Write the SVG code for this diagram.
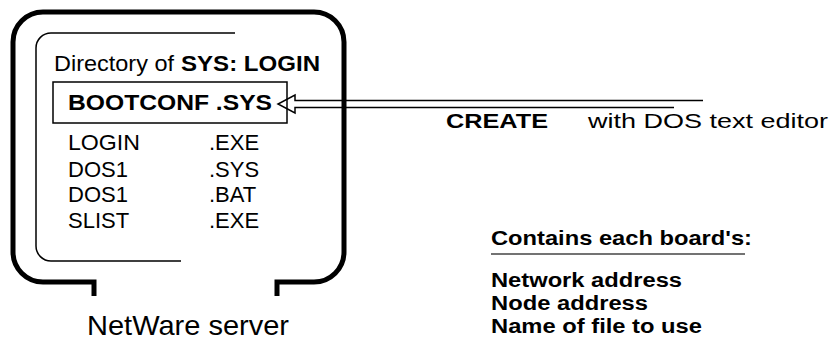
<svg xmlns="http://www.w3.org/2000/svg" width="829" height="341" viewBox="0 0 829 341">
<style>
.t{font-family:"Liberation Sans",Arial,Helvetica,sans-serif;fill:#000}
.b{font-weight:bold}
.frame{fill:none;stroke:#000;stroke-width:5}
.thin{fill:none;stroke:#000;stroke-width:1.5}
</style>
<rect width="829" height="341" fill="#fff"/>
<g id="server">
<path class="frame" d="M94 296V282H43A30 30 0 0 1 13 252V42A30 30 0 0 1 43 12H314A30 30 0 0 1 344 42V252A30 30 0 0 1 314 282H277V296"/>
<text class="t" x="188" y="335" font-size="28" text-anchor="middle" textLength="202" lengthAdjust="spacingAndGlyphs">NetWare server</text>
</g>
<g id="directory">
<path class="thin" d="M235 33H51A15 15 0 0 0 36 48V246A15 15 0 0 0 51 261H181"/>
<text class="t" x="54" y="71" font-size="22" textLength="120" lengthAdjust="spacingAndGlyphs">Directory of</text>
<text class="t b" x="181" y="71" font-size="22" textLength="139" lengthAdjust="spacingAndGlyphs">SYS: LOGIN</text>
<g font-size="22">
<text class="t" x="68" y="150" textLength="72" lengthAdjust="spacingAndGlyphs">LOGIN</text><text class="t" x="209" y="150">.EXE</text>
<text class="t" x="68" y="176.5">DOS1</text><text class="t" x="209" y="176.5">.SYS</text>
<text class="t" x="68" y="202">DOS1</text><text class="t" x="209" y="202">.BAT</text>
<text class="t" x="68" y="228">SLIST</text><text class="t" x="209" y="228">.EXE</text>
</g>
</g>
<g id="bootconf">
<rect class="thin" x="53" y="82" width="234" height="41" fill="#fff"/>
<text class="t b" x="68" y="110" font-size="22" textLength="204" lengthAdjust="spacingAndGlyphs">BOOTCONF .SYS</text>
</g>
<g id="create">
<text class="t b" x="446" y="128" font-size="20" textLength="102" lengthAdjust="spacingAndGlyphs">CREATE</text>
<text class="t" x="588" y="128" font-size="20" textLength="240" lengthAdjust="spacingAndGlyphs">with DOS text editor</text>
</g>
<g id="contents">
<text class="t b" x="491" y="245" font-size="21" textLength="261" lengthAdjust="spacingAndGlyphs">Contains each board's:</text>
<line x1="491" y1="254" x2="745" y2="254" stroke="#444" stroke-width="1.5"/>
<text class="t b" x="491" y="287" font-size="20" textLength="191" lengthAdjust="spacingAndGlyphs">Network address</text>
<text class="t b" x="491" y="310" font-size="20" textLength="157" lengthAdjust="spacingAndGlyphs">Node address</text>
<text class="t b" x="491" y="333" font-size="20" textLength="211" lengthAdjust="spacingAndGlyphs">Name of file to use</text>
</g>
<g id="connectors">
<polyline class="thin" fill="#fff" points="703,100.5 295,100.5 295,95 278,104 295,113 295,107.5 674,107.5"/>
</g>
</svg>
